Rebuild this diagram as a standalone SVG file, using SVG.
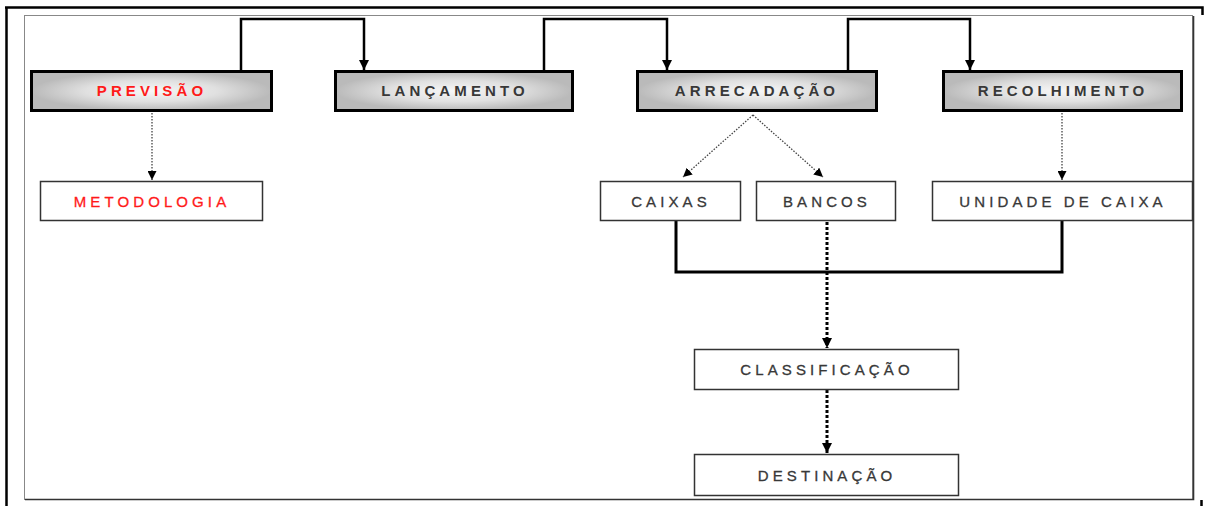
<svg xmlns="http://www.w3.org/2000/svg" width="1211" height="506" viewBox="0 0 1211 506">
<defs>
<radialGradient id="g" cx="0.5" cy="0.5" r="0.5">
<stop offset="0" stop-color="#f7f7f7"/>
<stop offset="0.55" stop-color="#e0e0e0"/>
<stop offset="1" stop-color="#bababa"/>
</radialGradient>
<marker id="ah" viewBox="0 0 10 10" refX="10" refY="5" markerWidth="10" markerHeight="10" markerUnits="userSpaceOnUse" orient="auto">
<path d="M0,0 L10,5 L0,10 z" fill="#000"/>
</marker>
<marker id="ahs" viewBox="0 0 10 10" refX="10" refY="5" markerWidth="9" markerHeight="9" markerUnits="userSpaceOnUse" orient="auto">
<path d="M0,0 L10,5 L0,10 z" fill="#000"/>
</marker>
</defs>
<style>
.top{fill:url(#g);stroke:#000;stroke-width:3}
.sub{fill:#fff;stroke:#333;stroke-width:1.5}
.tt{font-family:"Liberation Sans",Arial,sans-serif;font-size:15px;font-weight:bold;letter-spacing:4.1px;fill:#383838;text-anchor:middle}
.st{font-family:"Liberation Sans",Arial,sans-serif;font-size:15px;letter-spacing:4.1px;fill:#383838;stroke:#383838;stroke-width:0.3;text-anchor:middle}
.red{fill:#ff1a1a;stroke:#ff1a1a}
.solid{fill:none;stroke:#000;stroke-width:2.5}
.dot{fill:none;stroke:#444;stroke-width:1.3;stroke-dasharray:1.5 1.5}
.bdot{fill:none;stroke:#000;stroke-width:3;stroke-dasharray:3 2}
</style>
<rect width="1211" height="506" fill="#fff"/>
<g id="frame">
<path d="M5,7.5 H1202.5 V15 M6.5,7 V506 M1201.5,500 V506" fill="none" stroke="#000" stroke-width="2.5"/>
<rect x="24.5" y="15.5" width="1168" height="484" fill="none" stroke="#888" stroke-width="1"/>
<path d="M25,499.5 H1193.5 V16" fill="none" stroke="#333" stroke-width="1.6"/>
</g>
<g id="connectors">
<path class="solid" d="M241,70 V19 H364 V70" marker-end="url(#ah)"/>
<path class="solid" d="M544,70 V19 H667 V70" marker-end="url(#ah)"/>
<path class="solid" d="M848,70 V19 H970 V70" marker-end="url(#ah)"/>
<path class="dot" d="M152,113 V180" marker-end="url(#ahs)"/>
<path class="dot" d="M1062,113 V180" marker-end="url(#ahs)"/>
<path class="dot" d="M753,115 L683,177" marker-end="url(#ahs)"/>
<path class="dot" d="M753,115 L823,177" marker-end="url(#ahs)"/>
<path class="solid" style="stroke-width:3" d="M676,221 V272 H1062 V221"/>
<path class="bdot" d="M827,222 V348" marker-end="url(#ah)"/>
<path class="bdot" d="M827,390 V453" marker-end="url(#ah)"/>
</g>
<g id="previsao"><rect class="top" x="31.5" y="71.5" width="240" height="39"/><text class="tt red" x="152" y="95.5" style="stroke:none">PREVISÃO</text></g>
<g id="lancamento"><rect class="top" x="335.5" y="71.5" width="237" height="39"/><text class="tt" x="455" y="95.5">LANÇAMENTO</text></g>
<g id="arrecadacao"><rect class="top" x="637.5" y="71.5" width="239" height="39"/><text class="tt" x="757" y="95.5">ARRECADAÇÃO</text></g>
<g id="recolhimento"><rect class="top" x="943.5" y="71.5" width="238" height="39"/><text class="tt" x="1063" y="95.5">RECOLHIMENTO</text></g>
<g id="metodologia"><rect class="sub" x="40.5" y="181.5" width="222" height="39"/><text class="st red" x="152" y="206.5">METODOLOGIA</text></g>
<g id="caixas"><rect class="sub" x="600.5" y="181.5" width="140" height="39"/><text class="st" x="671" y="206.5">CAIXAS</text></g>
<g id="bancos"><rect class="sub" x="756.5" y="181.5" width="139" height="39"/><text class="st" x="827" y="206.5">BANCOS</text></g>
<g id="unidade"><rect class="sub" x="932.5" y="181.5" width="260" height="39"/><text class="st" x="1063" y="206.5">UNIDADE DE CAIXA</text></g>
<g id="classificacao"><rect class="sub" x="694.5" y="349.5" width="264" height="40"/><text class="st" x="827" y="375">CLASSIFICAÇÃO</text></g>
<g id="destinacao"><rect class="sub" x="694.5" y="454.5" width="264" height="41"/><text class="st" x="827" y="480.5">DESTINAÇÃO</text></g>
</svg>
